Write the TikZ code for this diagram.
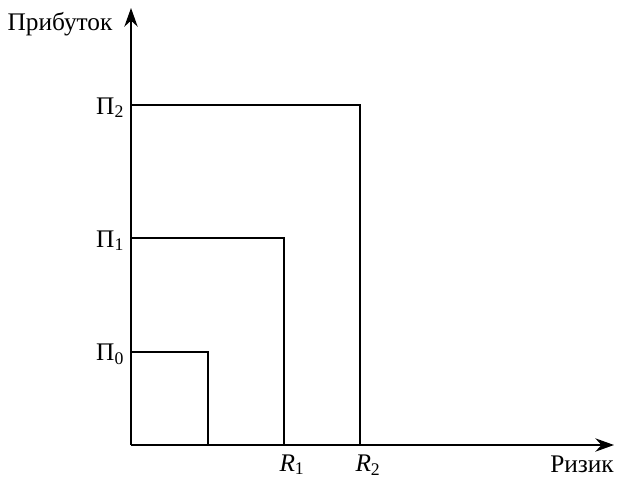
\documentclass[tikz,border=0pt]{standalone}
\usepackage{fontspec}
\setmainfont{Liberation Serif}
\usetikzlibrary{positioning, arrows.meta}
\definecolor{clrline}{HTML}{000000}

\begin{document}
\begin{tikzpicture}[
    x=0.75pt, y=-0.75pt,
    every node/.style={font=\fontsize{19}{21}\selectfont, text=clrline, inner sep=1pt},
    axis/.style={-{Stealth[length=14pt, width=10pt]}, line width=1.4pt, color=clrline},
    bound/.style={line width=1pt, color=clrline},
    ticklabel/.style={anchor=east},
]
\useasboundingbox (0,0) rectangle (620,479);
% axes
\coordinate (o) at (131,445);
\coordinate (y_tip) at (131,8);
\coordinate (x_tip) at (614,445);
\draw[axis] (o) -- (y_tip);
\draw[axis] (o) -- (x_tip);
\node[anchor=base east] (n_y) at (114,30) {Прибуток};
\node[anchor=base] (n_x) at (582,472) {Ризик};
% levels
\coordinate (p_0) at (131,352);
\coordinate (p_1) at (131,238);
\coordinate (p_2) at (131,105);
\coordinate (r_0) at (208,445);
\coordinate (r_1) at (284,445);
\coordinate (r_2) at (360,445);
\draw[bound] (p_0) -| (r_0);
\draw[bound] (p_1) -| (r_1);
\draw[bound] (p_2) -| (r_2);
\node[ticklabel, yshift=-2pt] (n_p0) at ([xshift=-4pt]p_0) {Π\textsubscript{0}};
\node[ticklabel, yshift=-2pt] (n_p1) at ([xshift=-4pt]p_1) {Π\textsubscript{1}};
\node[ticklabel, yshift=-2pt] (n_p2) at ([xshift=-4pt]p_2) {Π\textsubscript{2}};
\node[below=6pt of r_1, xshift=6pt] (n_r1) {\textit{R}\textsubscript{1}};
\node[below=6pt of r_2, xshift=6pt] (n_r2) {\textit{R}\textsubscript{2}};
\end{tikzpicture}
\end{document}
